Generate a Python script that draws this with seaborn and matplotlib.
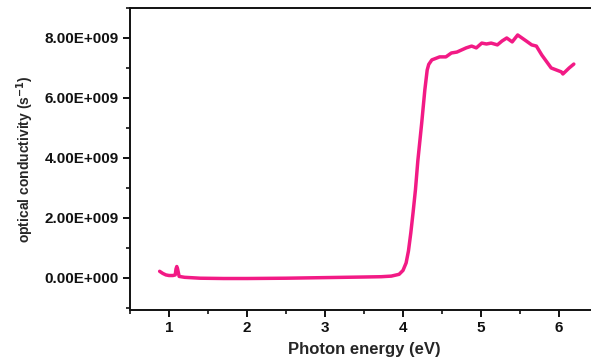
import matplotlib
matplotlib.use("Agg")
import matplotlib.pyplot as plt
import matplotlib.ticker as mticker
import numpy as np
import pandas as pd
import seaborn as sns

# Photon energy (eV) and optical conductivity (s^-1)
energy = [0.88, 0.92, 0.96, 1.00, 1.05, 1.08, 1.09, 1.10, 1.11, 1.13, 1.20, 1.40,
          1.70, 2.00, 2.50, 3.00, 3.50, 3.72, 3.85, 3.95, 4.00, 4.04, 4.07, 4.10,
          4.13, 4.16, 4.19, 4.24, 4.28, 4.31, 4.33, 4.37, 4.47, 4.55, 4.62, 4.69,
          4.81, 4.88, 4.94, 5.01, 5.07, 5.13, 5.21, 5.27, 5.33, 5.40, 5.47, 5.58,
          5.65, 5.71, 5.78, 5.90, 6.03, 6.05, 6.13, 6.19]
conductivity = [0.22e9, 0.15e9, 0.10e9, 0.08e9, 0.08e9, 0.10e9, 0.30e9, 0.38e9,
                0.30e9, 0.05e9, 0.02e9, -0.01e9, -0.02e9, -0.02e9, -0.01e9, 0.01e9,
                0.03e9, 0.04e9, 0.06e9, 0.12e9, 0.25e9, 0.50e9, 0.90e9, 1.50e9,
                2.20e9, 2.95e9, 3.90e9, 5.17e9, 6.27e9, 6.93e9, 7.12e9, 7.27e9,
                7.37e9, 7.37e9, 7.50e9, 7.53e9, 7.67e9, 7.73e9, 7.67e9, 7.83e9,
                7.80e9, 7.83e9, 7.77e9, 7.90e9, 8.00e9, 7.87e9, 8.10e9, 7.90e9,
                7.77e9, 7.73e9, 7.43e9, 7.00e9, 6.87e9, 6.80e9, 7.00e9, 7.13e9]

x_ticks = [1, 2, 3, 4, 5, 6]
y_ticks = [0, 2e9, 4e9, 6e9, 8e9]

df = pd.DataFrame({"energy": energy, "sigma": conductivity})

sns.set_style("ticks")
plt.rcParams["font.family"] = ["Liberation Sans", "DejaVu Sans"]
plt.rcParams["font.weight"] = "bold"

fig = plt.figure(figsize=(5.91, 3.59), dpi=100)
ax = fig.add_axes([130 / 591, 49 / 359, 468 / 591, 302 / 359])

sns.lineplot(data=df, x="energy", y="sigma", ax=ax, color="#F21A85",
             linewidth=2.5, sort=False, solid_capstyle="round",
             solid_joinstyle="round")

ax.set_xlim(0.5, 6.5)
ax.set_ylim(-1.07e9, 9.0e9)
ax.set_xticks(x_ticks)
ax.set_yticks(y_ticks)
ax.xaxis.set_minor_locator(mticker.MultipleLocator(0.5))
ax.yaxis.set_minor_locator(mticker.MultipleLocator(1e9))


def sci_label(v, pos):
    if v == 0:
        return "0.00E+000"
    exp = int(np.floor(np.log10(abs(v))))
    mant = v / 10 ** exp
    return f"{mant:.2f}E+{exp:03d}"


ax.yaxis.set_major_formatter(mticker.FuncFormatter(sci_label))
ax.xaxis.set_major_formatter(mticker.FormatStrFormatter("%d"))

for side in ["left", "bottom", "top", "right"]:
    ax.spines[side].set_linewidth(1.4)
    ax.spines[side].set_color("#111111")

ax.tick_params(axis="both", which="major", direction="out", length=5, width=1.4,
               labelsize=11, colors="#111111", pad=3)
ax.tick_params(axis="both", which="minor", direction="out", length=3, width=1.2,
               colors="#111111")
for lab in ax.get_xticklabels() + ax.get_yticklabels():
    lab.set_fontweight("bold")

ax.set_xlabel("Photon energy (eV)", fontsize=12, fontweight="bold", labelpad=5)
ax.set_ylabel("optical conductivity (s$^{\\mathbf{-1}}$)", fontsize=10,
              fontweight="bold", labelpad=6)

fig.savefig("out.png", dpi=100, facecolor="white")
